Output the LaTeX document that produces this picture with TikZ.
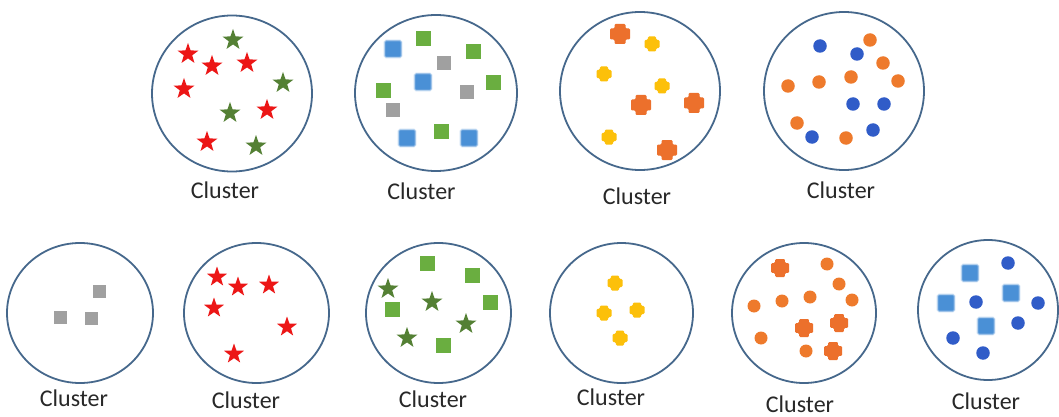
\documentclass[tikz,border=0pt]{standalone}
\usepackage{fontspec}
\setmainfont{Carlito}
\usetikzlibrary{shapes.geometric}
\definecolor{ringc}{RGB}{70,104,140}
\definecolor{textc}{RGB}{40,40,40}
\definecolor{starred}{RGB}{236,22,22}
\definecolor{stargreen}{RGB}{84,128,52}
\definecolor{sqgreen}{RGB}{106,174,64}
\definecolor{sqgray}{RGB}{160,160,160}
\definecolor{sqblue}{RGB}{74,144,214}
\definecolor{crossorange}{RGB}{236,112,44}
\definecolor{crossyellow}{RGB}{252,192,10}
\definecolor{dotorange}{RGB}{238,122,44}
\definecolor{dotblue}{RGB}{48,92,200}
\newcommand\plusmark[5]{% name, x, y, half size, colour
  \coordinate (#1) at (#2,#3);
  \fill[#5,rounded corners=1.2pt,shift={(#1)}]
    ({-0.55*#4},{-#4}) -- ({0.55*#4},{-#4}) -- ({0.55*#4},{-0.55*#4}) -- ({#4},{-0.55*#4})
    -- ({#4},{0.55*#4}) -- ({0.55*#4},{0.55*#4}) -- ({0.55*#4},{#4}) -- ({-0.55*#4},{#4})
    -- ({-0.55*#4},{0.55*#4}) -- ({-#4},{0.55*#4}) -- ({-#4},{-0.55*#4}) -- ({-0.55*#4},{-0.55*#4}) -- cycle;}
\tikzset{
  ring/.style={ellipse,draw=ringc,line width=1.8pt,inner sep=0pt},
  lbl/.style={font=\fontsize{24}{28}\selectfont,text=textc,anchor=base,inner sep=0pt},
  rstar/.style={star,star points=5,star point ratio=2.5,minimum size=22pt,inner sep=0pt,fill=starred},
  gstar/.style={star,star points=5,star point ratio=2.5,minimum size=22pt,inner sep=0pt,fill=stargreen},
  gsq/.style={rectangle,minimum size=15pt,inner sep=0pt,fill=sqgreen},
  ysq/.style={rectangle,minimum size=14pt,inner sep=0pt,fill=sqgray},
  bsq/.style={rectangle,minimum size=17pt,inner sep=0pt,fill=sqblue,rounded corners=1.5pt,draw=sqblue!45,draw opacity=0.6,line width=1.6pt},
  odot/.style={circle,minimum size=13.5pt,inner sep=0pt,fill=dotorange},
  bdot/.style={circle,minimum size=13.5pt,inner sep=0pt,fill=dotblue},
}
\begin{document}
\begin{tikzpicture}[x=1pt,y=-1pt]
\useasboundingbox[fill=white] (0,0) rectangle (1059,417);

% ---------- top row ----------
\node[ring,minimum width=160pt,minimum height=156pt] (c1) at (232,93.5) {};
\node[lbl] (l1) at (225,198) {Cluster};
\foreach \n/\s/\x/\y in {a/rstar/188/54, b/gstar/233/40, c/rstar/212/66, d/rstar/247/63, e/rstar/184/89,
  f/gstar/283/83, g/gstar/230/113, h/rstar/267/110, i/rstar/207/142, j/gstar/256/146}
  \node[\s] (c1\n) at (\x,\y) {};

\node[ring,minimum width=162pt,minimum height=156pt] (c2) at (436,93) {};
\node[lbl] (l2) at (421.5,199) {Cluster};
\foreach \n/\s/\x/\y in {a/bsq/393/49, b/gsq/423/39, c/gsq/473/52, d/ysq/444/63, e/bsq/423/82, f/gsq/383/91,
  g/ysq/467/92, h/gsq/493/83, i/ysq/393/110, j/bsq/407/138, k/gsq/441/131, l/bsq/469/138}
  \node[\s] (c2\n) at (\x,\y) {};

\node[ring,minimum width=160pt,minimum height=158pt] (c3) at (640,91) {};
\node[lbl] (l3) at (637,204) {Cluster};
\plusmark{c3a}{620}{34}{10}{crossorange}
\plusmark{c3b}{652}{44}{7.5}{crossyellow}
\plusmark{c3c}{604}{74}{7.5}{crossyellow}
\plusmark{c3d}{662}{86}{7.5}{crossyellow}
\plusmark{c3e}{641}{105}{10}{crossorange}
\plusmark{c3f}{694}{103}{10}{crossorange}
\plusmark{c3g}{609}{137}{7.5}{crossyellow}
\plusmark{c3h}{667}{150}{10}{crossorange}

\node[ring,minimum width=160pt,minimum height=158pt] (c4) at (844,91) {};
\node[lbl] (l4) at (841,198) {Cluster};
\foreach \n/\s/\x/\y in {a/bdot/820/46, b/odot/870/40, c/bdot/857/54, d/odot/883/63, e/odot/788/86,
  f/odot/819/82, g/odot/851/77, h/odot/898/81, i/bdot/853/104, j/bdot/884/104, k/odot/797/123,
  l/bdot/812/137, m/odot/846/138, n/bdot/873/130}
  \node[\s] (c4\n) at (\x,\y) {};

% ---------- bottom row ----------
\node[ring,minimum width=146pt,minimum height=140pt] (c5) at (80,313) {};
\node[lbl] (l5) at (74,406) {Cluster};
\foreach \n/\x/\y in {a/99/291, b/60/317, c/91/318}
  \node[ysq,minimum size=13pt] (c5\n) at (\x,\y) {};

\node[ring,minimum width=145pt,minimum height=140pt] (c6) at (256.5,313) {};
\node[lbl] (l6) at (246,408) {Cluster};
\foreach \n/\x/\y in {a/217/277, b/238/287, c/269/285, d/214/308, e/287/327, f/234/354}
  \node[rstar,minimum size=21pt] (c6\n) at (\x,\y) {};

\node[ring,minimum width=145pt,minimum height=140pt] (c7) at (438.5,313) {};
\node[lbl] (l7) at (433,407) {Cluster};
\foreach \n/\s/\x/\y in {a/gsq/427/263, b/gsq/472/275, c/gstar/388/289, d/gsq/392/309, e/gstar/432/302,
  f/gsq/490/302, g/gstar/466/324, h/gstar/407/338, i/gsq/443/345}
  \node[\s] (c7\n) at (\x,\y) {};

\node[ring,minimum width=143pt,minimum height=140pt] (c8) at (621.5,313) {};
\node[lbl] (l8) at (611,405) {Cluster};
\plusmark{c8a}{615}{283}{7.5}{crossyellow}
\plusmark{c8b}{604}{313}{7.5}{crossyellow}
\plusmark{c8c}{637}{310}{7.5}{crossyellow}
\plusmark{c8d}{620}{338}{7.5}{crossyellow}

\node[ring,minimum width=144pt,minimum height=140pt] (c9) at (804,313) {};
\node[lbl] (l9) at (800,412) {Cluster};
\plusmark{c9a}{780}{268}{9}{crossorange}
\plusmark{c9b}{804}{328}{9}{crossorange}
\plusmark{c9c}{839}{323}{9}{crossorange}
\plusmark{c9d}{833}{351}{9}{crossorange}
\foreach \n/\x/\y in {e/827/264, f/839/284, g/754/306, h/782/301, i/810/297, j/852/300, k/761/338, l/806/351}
  \node[odot,minimum size=13pt] (c9\n) at (\x,\y) {};

\node[ring,minimum width=140pt,minimum height=140pt] (c10) at (988,310) {};
\node[lbl] (l10) at (986,409) {Cluster};
\foreach \n/\s/\x/\y in {a/bsq/970/273, b/bdot/1008/263, c/bsq/1011/293, d/bsq/946/303, e/bdot/976/302,
  f/bdot/1038/303, g/bsq/986/326, h/bdot/1018/323, i/bdot/953/338, j/bdot/983/353}
  \node[\s] (c10\n) at (\x,\y) {};
\end{tikzpicture}
\end{document}
